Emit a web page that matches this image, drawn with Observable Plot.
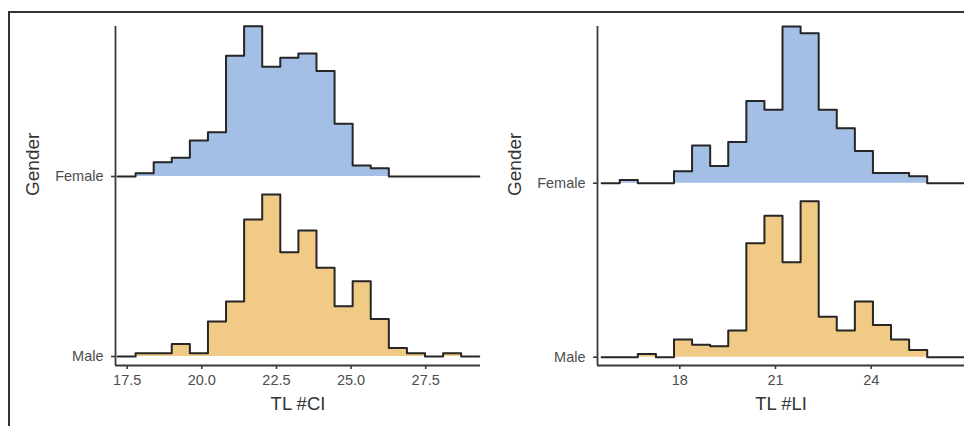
<!DOCTYPE html>
<html>
<head>
<meta charset="utf-8">
<script src="https://cdn.jsdelivr.net/npm/d3@7"></script>
<script src="https://cdn.jsdelivr.net/npm/@observablehq/plot@0.6"></script>
<style>
  html, body { margin: 0; padding: 0; background: #ffffff; }
  #wrap { position: relative; width: 964px; height: 426px; overflow: hidden; background: #ffffff; }
  #frame { position: absolute; left: 8px; top: 11px; width: 960px; height: 420px;
           border-top: 2px solid #333; border-left: 2px solid #333; box-sizing: border-box; }
  .panel { position: absolute; top: 0; }
</style>
</head>
<body>
<div id="wrap">
  <div id="frame"></div>
  <div id="left" class="panel" style="left:0px"></div>
  <div id="right" class="panel" style="left:482px"></div>
</div>
<script>
// ---- data ----
const genders = ["Male", "Female"];

// Left panel: TL #CI, 20 bins
const ciEdges = [17.175, 17.781, 18.387, 18.993, 19.599, 20.205, 20.811, 21.417, 22.023, 22.629,
                 23.235, 23.841, 24.447, 25.053, 25.659, 26.265, 26.871, 27.477, 28.083, 28.689, 29.295];
const ciFemale = [0, 1, 4.3, 5.7, 10.9, 13.4, 36.6, 45.5, 33.3, 36, 37.3, 32, 16, 3.3, 2.5, 0, 0, 0, 0, 0];
const ciMale   = [0, 1, 1, 3.8, 1, 10.6, 16.7, 41.5, 49.1, 31.6, 38.2, 26.9, 15.2, 22.8, 11.4, 2.6, 1, 0, 1, 0];
const ciTicks = [17.5, 20.0, 22.5, 25.0, 27.5];
const ciTickLabels = ["17.5", "20.0", "22.5", "25.0", "27.5"];

// Right panel: TL #LI, 20 bins
const liEdges = [15.55, 16.117, 16.684, 17.251, 17.818, 18.385, 18.952, 19.519, 20.086, 20.653,
                 21.22, 21.787, 22.354, 22.921, 23.488, 24.055, 24.622, 25.189, 25.756, 26.323, 26.89];
const liFemale = [0, 1, 0, 0, 3.6, 11.4, 5.2, 12.5, 24.9, 22.3, 47.5, 45.5, 22.3, 16.7, 9.8, 3.1, 3.1, 2.1, 0, 0];
const liMale   = [0, 0, 1, 0, 5.4, 3.8, 3.3, 8.1, 34.6, 42.9, 28.8, 47.3, 12.3, 8.1, 16.9, 9.8, 5.4, 2.2, 0, 0];
const liTicks = [18, 21, 24];
const liTickLabels = ["18", "21", "24"];

const femaleFill = "#a3bfe6";
const maleFill = "#f1cb85";

function ridge(edges, counts, base, k) {
  return edges.map((e, i) => ({
    x: e,
    y0: base,
    y: base + counts[Math.min(i, counts.length - 1)] * k
  }));
}

function panel(opts) {
  const {edges, female, male, ticks, tickLabels, title, xDomain, yDomain, marginLeft, marginRight} = opts;
  const maxCount = d3.max([...female, ...male]);
  const k = 0.9 / maxCount; // tallest ridge = 0.9 x spacing
  const fPts = ridge(edges, female, 1, k);
  const mPts = ridge(edges, male, 0, k);
  return Plot.plot({
    width: 482,
    height: 426,
    marginLeft, marginRight,
    marginTop: 26,
    marginBottom: 61,
    x: {domain: xDomain},
    y: {domain: yDomain},
    style: {fontFamily: "'Liberation Sans', Arial, sans-serif", fontSize: "14.5px", color: "#4d4d4d", background: "transparent", overflow: "visible"},
    marks: [
      Plot.areaY(fPts, {x: "x", y1: "y0", y2: "y", curve: "step-after", fill: femaleFill}),
      Plot.lineY(fPts, {x: "x", y: "y", curve: "step-after", stroke: "#262626", strokeWidth: 2}),
      Plot.areaY(mPts, {x: "x", y1: "y0", y2: "y", curve: "step-after", fill: maleFill}),
      Plot.lineY(mPts, {x: "x", y: "y", curve: "step-after", stroke: "#262626", strokeWidth: 2}),
      Plot.ruleX([xDomain[0]], {stroke: "#3a3a3a", strokeWidth: 1.8}),
      Plot.ruleY([yDomain[0]], {stroke: "#3a3a3a", strokeWidth: 1.8}),
      Plot.axisX({ticks, tickFormat: (d, i) => tickLabels[ticks.indexOf(d)], tickSize: 4, tickPadding: 5,
                  stroke: "#3a3a3a", strokeWidth: 1.6, label: null, fill: "#4d4d4d"}),
      Plot.axisY({ticks: [0, 1], tickFormat: d => genders[d], tickSize: 4, tickPadding: 8,
                  stroke: "#3a3a3a", strokeWidth: 1.6, label: null, fill: "#4d4d4d"}),
      Plot.text([title], {frameAnchor: "bottom", dy: 39, text: d => d, fontSize: 18.5, fill: "#333", lineAnchor: "middle"}),
      Plot.text(["Gender"], {frameAnchor: "left", dx: 32 - marginLeft, text: d => d, rotate: -90, fontSize: 19, fill: "#333"})
    ]
  });
}

document.getElementById("left").append(panel({
  edges: ciEdges, female: ciFemale, male: ciMale, ticks: ciTicks, tickLabels: ciTickLabels,
  title: "TL #CI", xDomain: [17.108, 29.336], yDomain: [-0.05, 1.8333], marginLeft: 115, marginRight: 2
}));
document.getElementById("right").append(panel({
  edges: liEdges, female: liFemale, male: liMale, ticks: liTicks, tickLabels: liTickLabels,
  title: "TL #LI", xDomain: [15.42, 26.925], yDomain: [-0.0477, 1.9006], marginLeft: 115, marginRight: 0
}));
</script>
</body>
</html>
